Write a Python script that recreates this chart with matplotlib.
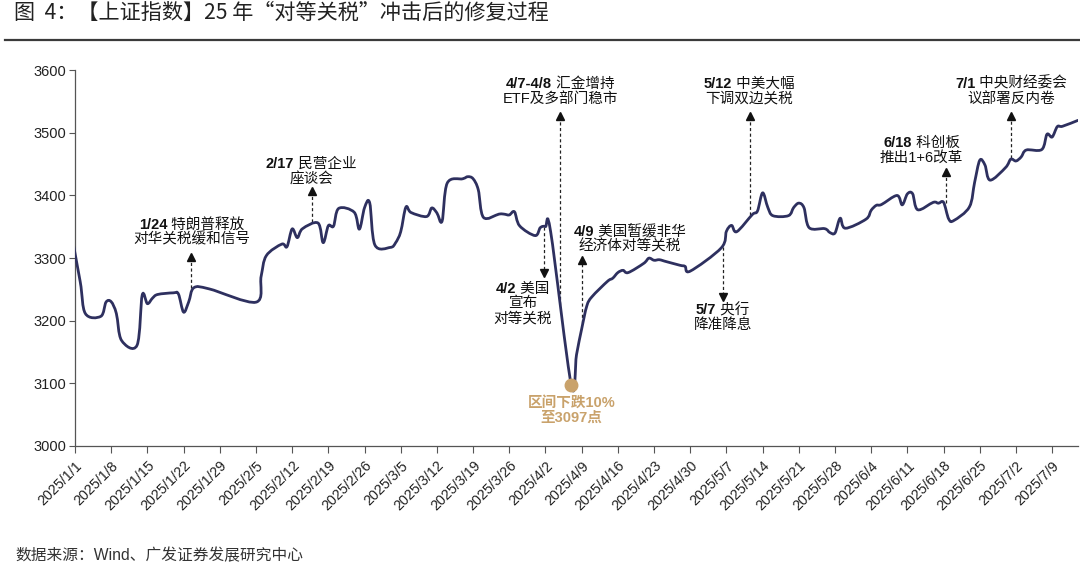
import numpy as np
import pandas as pd
import matplotlib
matplotlib.use('Agg')
import matplotlib.pyplot as plt
import matplotlib.dates as mdates
import matplotlib.transforms as mtransforms
from matplotlib.lines import Line2D
from matplotlib.path import Path
from matplotlib.patches import PathPatch

plt.rcParams['font.family'] = ['Liberation Sans', 'Noto Sans CJK SC', 'DejaVu Sans']

# 上证指数收盘 (2024/12/31 起, 左端被坐标轴截断)
dates = ['2024-12-31',
         '2025-01-02', '2025-01-03', '2025-01-06', '2025-01-07', '2025-01-08', '2025-01-09', '2025-01-10',
         '2025-01-13', '2025-01-14', '2025-01-15', '2025-01-16', '2025-01-17', '2025-01-20', '2025-01-21',
         '2025-01-22', '2025-01-23', '2025-01-24', '2025-01-27', '2025-02-05', '2025-02-06', '2025-02-07',
         '2025-02-10', '2025-02-11', '2025-02-12', '2025-02-13', '2025-02-14', '2025-02-17', '2025-02-18',
         '2025-02-19', '2025-02-20', '2025-02-21', '2025-02-24', '2025-02-25', '2025-02-26', '2025-02-27',
         '2025-02-28', '2025-03-03', '2025-03-04', '2025-03-05', '2025-03-06', '2025-03-07', '2025-03-10',
         '2025-03-11', '2025-03-12', '2025-03-13', '2025-03-14', '2025-03-17', '2025-03-18', '2025-03-19',
         '2025-03-20', '2025-03-21', '2025-03-24', '2025-03-25', '2025-03-26', '2025-03-27', '2025-03-28',
         '2025-03-31', '2025-04-01', '2025-04-02', '2025-04-03', '2025-04-07', '2025-04-08', '2025-04-09',
         '2025-04-10', '2025-04-11', '2025-04-14', '2025-04-15', '2025-04-16', '2025-04-17', '2025-04-18',
         '2025-04-21', '2025-04-22', '2025-04-23', '2025-04-24', '2025-04-25', '2025-04-28', '2025-04-29',
         '2025-04-30', '2025-05-06', '2025-05-07', '2025-05-08', '2025-05-09', '2025-05-12', '2025-05-13',
         '2025-05-14', '2025-05-15', '2025-05-16', '2025-05-19', '2025-05-20', '2025-05-21', '2025-05-22',
         '2025-05-23', '2025-05-26', '2025-05-27', '2025-05-28', '2025-05-29', '2025-05-30', '2025-06-03',
         '2025-06-04', '2025-06-05', '2025-06-06', '2025-06-09', '2025-06-10', '2025-06-11', '2025-06-12',
         '2025-06-13', '2025-06-16', '2025-06-17', '2025-06-18', '2025-06-19', '2025-06-20', '2025-06-23',
         '2025-06-24', '2025-06-25', '2025-06-26', '2025-06-27', '2025-06-30', '2025-07-01', '2025-07-02',
         '2025-07-03', '2025-07-04', '2025-07-07', '2025-07-08', '2025-07-09', '2025-07-10', '2025-07-11',
         '2025-07-14']
closes = [3351.76,
          3262.56, 3211.43, 3206.92, 3229.64, 3230.17, 3211.39, 3168.52,
          3160.76, 3240.94, 3227.12, 3236.03, 3241.82, 3244.38, 3242.62,
          3213.62, 3230.16, 3252.63, 3250.60, 3229.49, 3270.66, 3303.67,
          3322.17, 3318.06, 3346.39, 3332.48, 3346.72, 3355.83, 3324.49,
          3351.54, 3350.78, 3379.11, 3373.03, 3346.04, 3380.21, 3388.06,
          3320.90, 3316.93, 3324.21, 3341.96, 3381.10, 3372.55, 3366.16,
          3379.83, 3371.92, 3358.73, 3419.56, 3426.43, 3429.76, 3426.43,
          3408.95, 3364.83, 3370.03, 3369.98, 3368.70, 3373.75, 3351.31,
          3335.75, 3348.44, 3350.13, 3342.01, 3096.58, 3145.55, 3186.81,
          3223.64, 3238.23, 3262.81, 3267.66, 3276.73, 3280.34, 3276.73,
          3291.43, 3299.76, 3296.36, 3297.29, 3295.06, 3288.41, 3286.65,
          3279.03, 3316.11, 3342.67, 3352.00, 3342.00, 3369.24, 3374.87,
          3403.95, 3380.82, 3367.46, 3367.58, 3380.48, 3387.57, 3380.19,
          3348.37, 3346.84, 3340.69, 3339.93, 3363.45, 3347.49, 3361.98,
          3376.20, 3384.10, 3385.36, 3399.77, 3384.82, 3402.32, 3402.66,
          3377.00, 3388.81, 3387.40, 3388.81, 3362.11, 3359.90, 3381.58,
          3420.57, 3455.97, 3448.45, 3424.23, 3444.43, 3457.75, 3454.79,
          3461.15, 3472.32, 3473.13, 3497.48, 3493.05, 3509.68, 3510.18,
          3519.65]

low_date = '2025-04-07'
low_value = 3096.58
low_text = '区间下跌10%\n至3097点'

# 事件标注: 日期(粗体), 其余文字, 后续行
note_dates = ['1/24', '2/17', '4/2', '4/7-4/8', '4/9', '5/7', '5/12', '6/18', '7/1']
note_texts = ['特朗普释放', '民营企业', '美国', '汇金增持', '美国暂缓非华', '央行', '中美大幅', '科创板', '中央财经委会']
note_more = [['对华关税缓和信号'], ['座谈会'], ['宣布', '对等关税'], ['ETF及多部门稳市'],
             ['经济体对等关税'], ['降准降息'], ['下调双边关税'], ['推出1+6改革'], ['议部署反内卷']]

tick_dates = pd.date_range('2025-01-01', '2025-07-09', freq='7D')
tick_labels = ['%d/%d/%d' % (d.year, d.month, d.day) for d in tick_dates]

# 布局 (天数偏移自 2025/1/1, 纵向为指数点位)
base = pd.Timestamp('2025-01-01')
def day(x):
    return base + pd.Timedelta(days=x)

note_x = [22.6, 45.7, 86.6, 93.9, 107.3, 125.3, 130.3, 163.7, 181.1]
note_y = [3353, 3450, 3251, 3578, 3342, 3217, 3578, 3483, 3578]
arrow_x = [22.4, 45.8, 90.8, 93.9, 98.1, 125.3, 130.5, 168.5, 181.1]
arrow_from = [3252, 3358, 3350, 3225, 3196, 3318, 3369, 3388, 3459]
arrow_to = [3302, 3407, 3276, 3526, 3297, 3238, 3527, 3438, 3527]
line_gap = 23.5

navy = '#2E305F'
tan = '#C9A26B'

fig = plt.figure(figsize=(10.8, 5.67), dpi=100)
ax = fig.add_axes([75/1080, 1 - 446/567, (1078 - 75)/1080, (446 - 70)/567])

# 平滑折线 (同 Excel 平滑线, 过每个数据点的贝塞尔曲线)
px = mdates.date2num(pd.to_datetime(dates))
pts = np.column_stack([px, closes])
pad = np.vstack([pts[0], pts, pts[-1]])
verts = [pts[0]]
codes = [Path.MOVETO]
for i in range(len(pts) - 1):
    p0, p1, p2, p3 = pad[i], pad[i + 1], pad[i + 2], pad[i + 3]
    verts += [p1 + (p2 - p0) / 6, p2 - (p3 - p1) / 6, p2]
    codes += [Path.CURVE4] * 3
ax.add_patch(PathPatch(Path(verts, codes), fill=False, ec=navy, lw=2.0,
                       joinstyle='round', capstyle='round', zorder=3))

ax.plot(pd.Timestamp(low_date), low_value, 'o', color=tan, ms=9, zorder=4)
ax.text(pd.Timestamp(low_date), 3057, low_text, color=tan, fontsize=10.5, fontweight='bold',
        ha='center', va='center', linespacing=1.05)

ax.set_xlim(base, pd.Timestamp('2025-07-14'))
ax.set_ylim(3000, 3600)
ax.set_yticks(np.arange(3000, 3601, 100))
ax.set_xticks(tick_dates)
ax.set_xticklabels(tick_labels, rotation=45, ha='right', va='top', rotation_mode='anchor')
ax.tick_params(axis='y', labelsize=10.5, length=4, color='#555555', labelcolor='#222222', pad=2)
ax.tick_params(axis='x', labelsize=10.3, length=5, color='#555555', labelcolor='#222222', pad=4)
for s in ['top', 'right']:
    ax.spines[s].set_visible(False)
for s in ['left', 'bottom']:
    ax.spines[s].set_color('#555555')
    ax.spines[s].set_linewidth(0.9)

# 虚线箭头
for i in range(len(note_dates)):
    xa = day(arrow_x[i])
    ax.plot([xa, xa], [arrow_from[i], arrow_to[i]], ls=(0, (2.5, 2)), color='#222222', lw=0.9, zorder=2)
    mk = '^' if arrow_to[i] > arrow_from[i] else 'v'
    ax.plot(xa, arrow_to[i], marker=mk, color='#111111', ms=5.5, zorder=2)

# 标注文字: 日期粗体, 其余常规
fs = 10.5
first_lines = []
for i in range(len(note_dates)):
    xt = day(note_x[i])
    t1 = ax.text(xt, note_y[i], note_dates[i], fontsize=fs, fontweight='bold',
                 ha='left', va='center', color='#111111')
    t2 = ax.text(xt, note_y[i], ' ' + note_texts[i], fontsize=fs,
                 ha='left', va='center', color='#111111')
    first_lines.append((t1, t2))
    for k, s in enumerate(note_more[i]):
        ax.text(xt, note_y[i] - line_gap * (k + 1), s, fontsize=fs, ha='center', va='center',
                color='#111111')

fig.canvas.draw()
r = fig.canvas.get_renderer()
for t1, t2 in first_lines:
    w1 = t1.get_window_extent(r).width
    w2 = t2.get_window_extent(r).width
    tot = w1 + w2
    t1.set_transform(ax.transData + mtransforms.ScaledTranslation(-tot / 2 / fig.dpi, 0, fig.dpi_scale_trans))
    t2.set_transform(ax.transData + mtransforms.ScaledTranslation((w1 - tot / 2) / fig.dpi, 0, fig.dpi_scale_trans))

# 标题与来源
fig.text(14/1080, 1 - 13/567, '图  4：【上证指数】25 年“对等关税”冲击后的修复过程',
         fontsize=15.2, ha='left', va='center', color='#222222', family=['Noto Sans CJK SC'])
fig.add_artist(Line2D([5/1080, 1.0], [1 - 40/567, 1 - 40/567], color='#3a3a3a', lw=1.6))
fig.text(15/1080, 1 - 556/567, '数据来源：Wind、广发证券发展研究中心',
         fontsize=11.3, ha='left', va='center', color='#333333')

fig.savefig('out.png', dpi=100)
